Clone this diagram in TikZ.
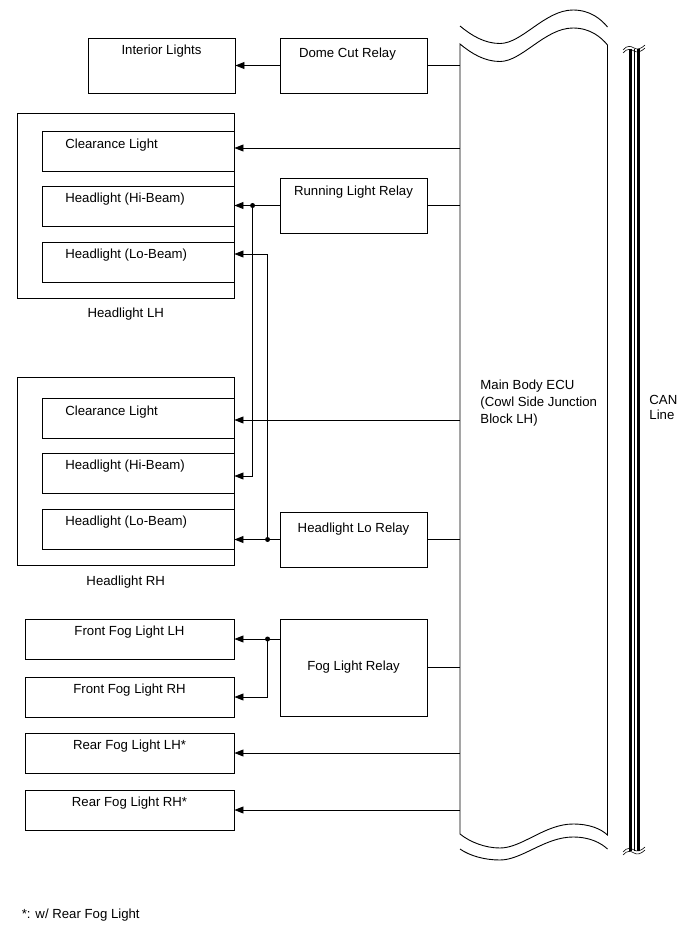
\documentclass[tikz,border=0pt]{standalone}
\usepackage{fontspec}
\setmainfont{Liberation Sans}
\usetikzlibrary{arrows.meta}

\tikzset{
    box/.style={draw, inner sep=0pt, minimum height=40pt},
    relay/.style={box, minimum width=147pt, minimum height=55pt},
    lbl/.style={anchor=base, yshift=-17pt},
    lbll/.style={anchor=base west, xshift=20pt, yshift=-17pt},
    arr/.style={-{Triangle[length=9pt,width=7pt]}}
}

\begin{document}
\begin{tikzpicture}[x=1pt, y=-1pt, line width=0.9pt, font=\fontsize{13.2}{17}\selectfont]
    \useasboundingbox (0,0) rectangle (689,950);

    \node[minimum width=147pt, minimum height=790pt, inner sep=0pt] (ecu) at (533.75,440) {};
    \draw (460,44) .. controls (472,54) and (485,61.5) .. (500,61.5) .. controls (522,61.5) and (545,28) .. (573,28) .. controls (590,28) and (601,37) .. (607.5,45)
        -- (607.5,835) .. controls (601,829) and (590,824) .. (573,824) .. controls (545,824) and (522,848) .. (500,848) .. controls (485,848) and (470,842) .. (460,834) -- cycle;
    \draw (460,26) .. controls (472,36) and (485,43.5) .. (500,43.5) .. controls (522,43.5) and (545,10) .. (573,10) .. controls (590,10) and (601,19) .. (607.5,27);
    \draw (460,849) .. controls (470,856) and (485,860) .. (500,860) .. controls (522,860) and (545,837) .. (573,837) .. controls (590,837) and (601,843) .. (607.5,849);
    \node[anchor=north west, align=left, inner sep=0pt] (ecutxt) at (480,379) {Main Body ECU\\(Cowl Side Junction\\Block LH)};

    \draw[line width=3pt] (630,49) -- (630,851);
    \draw[line width=0.6pt] (634.3,49) -- (634.3,851);
    \draw[line width=2.5pt] (638.3,49) -- (638.3,851);
    \draw[line width=0.6pt] (623,50) .. controls (627,45) and (631,46) .. (634,48) .. controls (637,50) and (641,49) .. (645,45);
    \draw[line width=0.6pt] (623,53) .. controls (627,48) and (631,49) .. (634,51) .. controls (637,53) and (641,52) .. (645,48);
    \draw[line width=0.6pt] (623,852) .. controls (627,847) and (631,848) .. (634,850) .. controls (637,852) and (641,851) .. (645,847);
    \draw[line width=0.6pt] (623,855) .. controls (627,850) and (631,851) .. (634,853) .. controls (637,855) and (641,854) .. (645,850);
    \node[anchor=north west, align=left, inner sep=0pt, font=\fontsize{13.2}{15}\selectfont] (can) at (649,395) {CAN\\Line};

    \node[relay, label={[lbl]north:Interior Lights}] (intl) at (161.5,65.5) {};
    \node[relay, label={[lbl, xshift=-6pt, yshift=-3pt]north:Dome Cut Relay}] (dome) at (353.5,65.5) {};
    \node[relay, label={[lbl, yshift=-1pt]north:Running Light Relay}] (run) at (353.5,205.5) {};
    \node[relay, label={[lbl, yshift=-4pt]north:Headlight Lo Relay}] (lorel) at (353.5,539.5) {};
    \node[relay, minimum height=97pt] (fog) at (353.5,667.5) {Fog Light Relay};

    \node[box, minimum width=216.5pt, minimum height=185pt] (hlL) at (125.75,205.5) {};
    \node[box, minimum width=192pt, label={[lbll]north west:Clearance Light}] (clrL) at (138,151.5) {};
    \node[box, minimum width=192pt, label={[lbll]north west:Headlight (Hi-Beam)}] (hiL) at (138,206) {};
    \node[box, minimum width=192pt, label={[lbll]north west:Headlight (Lo-Beam)}] (loL) at (138,262) {};
    \node[anchor=base] (hlLtxt) at ([yshift=-19pt]hlL.south) {Headlight LH};

    \node[box, minimum width=216.5pt, minimum height=188pt] (hlR) at (125.75,471) {};
    \node[box, minimum width=192pt, label={[lbll]north west:Clearance Light}] (clrR) at (138,418.5) {};
    \node[box, minimum width=192pt, label={[lbll]north west:Headlight (Hi-Beam)}] (hiR) at (138,473) {};
    \node[box, minimum width=192pt, label={[lbll]north west:Headlight (Lo-Beam)}] (loR) at (138,529) {};
    \node[anchor=base] (hlRtxt) at ([yshift=-20pt]hlR.south) {Headlight RH};

    \node[box, minimum width=209pt, label={[lbl]north:Front Fog Light LH}] (ffL) at (129.5,639) {};
    \node[box, minimum width=209pt, label={[lbl]north:Front Fog Light RH}] (ffR) at (129.5,697) {};
    \node[box, minimum width=209pt, label={[lbl]north:Rear Fog Light LH*}] (rfL) at (129.5,753) {};
    \node[box, minimum width=209pt, label={[lbl]north:Rear Fog Light RH*}] (rfR) at (129.5,810) {};

    \node[anchor=base west] (note) at (18,918) {*: w/ Rear Fog Light};

    \coordinate (aClrL) at ([yshift=3.5pt]clrL.east);
    \coordinate (aClrR) at ([yshift=-1.5pt]clrR.east);
    \coordinate (aHiR) at ([yshift=-3pt]hiR.east);
    \coordinate (aLoL) at ([yshift=8pt]loL.east);
    \coordinate (jr) at ([xshift=-27pt]run.west);
    \coordinate (jl) at ([xshift=-12pt]lorel.west);
    \coordinate (jf) at (jl |- ffL.east);

    \draw[arr] (dome.west) -- (intl.east);
    \draw (dome.east) -- (dome.east -| ecu.west);
    \draw[arr] (ecu.west |- aClrL) -- (aClrL);
    \draw[arr] (run.west) -- (run.west -| hiL.east);
    \draw (run.east) -- (run.east -| ecu.west);
    \draw[arr] (jr) |- (aHiR);
    \draw[arr] (jl) |- (aLoL);
    \draw[arr] (lorel.west) -- (lorel.west -| loR.east);
    \draw (lorel.east) -- (lorel.east -| ecu.west);
    \draw[arr] (ecu.west |- aClrR) -- (aClrR);
    \draw[arr] (fog.west |- ffL.east) -- (ffL.east);
    \draw[arr] (jf) |- (ffR.east);
    \draw (fog.east) -- (fog.east -| ecu.west);
    \draw[arr] (ecu.west |- rfL.east) -- (rfL.east);
    \draw[arr] (ecu.west |- rfR.east) -- (rfR.east);
    \fill (jr) circle (2.5pt);
    \fill (jl) circle (2.5pt);
    \fill (jf) circle (2.5pt);
\end{tikzpicture}
\end{document}
